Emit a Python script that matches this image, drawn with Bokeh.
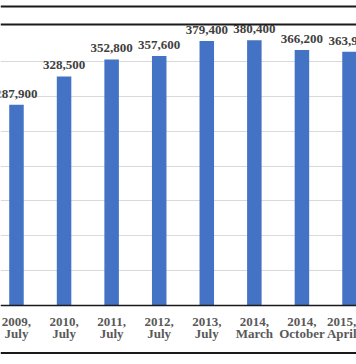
from bokeh.plotting import figure
from bokeh.models import ColumnDataSource, Range1d, FixedTicker, Span
from bokeh.core.properties import value
from bokeh.embed import file_html
from bokeh.resources import INLINE

categories = ["2009,\nJuly", "2010,\nJuly", "2011,\nJuly", "2012,\nJuly",
              "2013,\nJuly", "2014,\nMarch", "2014,\nOctober", "2015,\nApril"]
values = [287900, 328500, 352800, 357600, 379400, 380400, 366200, 363900]
value_labels = ["287,900", "328,500", "352,800", "357,600",
                "379,400", "380,400", "366,200", "363,900"]
grid_values = [50000, 100000, 150000, 200000, 250000, 300000, 350000]

# layout: canvas 364 px tall, value 0 at pixel row 305, 50,000 per 34.87 px
H = 364
ZERO_PX = 305
PER_PX = 50000 / 34.87


def px_to_val(py):
    return (ZERO_PX - py) * PER_PX


idx = list(range(len(categories)))
src = ColumnDataSource(dict(x=idx, top=values, lab=value_labels))

p = figure(width=356, height=H, output_backend="svg", toolbar_location=None,
           x_range=Range1d(-0.336, 7.147), y_range=Range1d(px_to_val(H), px_to_val(0)),
           min_border_left=0, min_border_right=0, min_border_top=0, min_border_bottom=0)
p.outline_line_color = None
p.background_fill_color = "white"
p.border_fill_color = "white"

p.vbar(x="x", top="top", bottom=0, width=0.305, source=src, fill_color="#4472C4", line_color=None)
p.text(x="x", y="top", text="lab", source=src, text_align="center", text_baseline="alphabetic",
       y_offset=-11, text_font=value("Liberation Serif"), text_font_style="bold",
       text_font_size="13px", text_color="#404040")

p.xgrid.grid_line_color = None
p.ygrid.ticker = FixedTicker(ticks=grid_values)
p.ygrid.grid_line_color = "#D9D9D9"
p.ygrid.grid_line_width = 1
p.yaxis.visible = False

xa = p.xaxis[0]
xa.fixed_location = 0
xa.ticker = FixedTicker(ticks=idx)
xa.major_label_overrides = {i: c for i, c in zip(idx, categories)}
xa.axis_line_color = "#1a1a1a"
xa.axis_line_width = 1.7
xa.major_tick_line_color = None
xa.minor_tick_line_color = None
xa.major_tick_out = 0
xa.minor_tick_out = 0
xa.major_label_standoff = 8
xa.major_label_text_font = "Liberation Serif"
xa.major_label_text_font_style = "bold"
xa.major_label_text_font_size = "13px"
xa.major_label_text_color = "#595959"
xa.major_label_text_line_height = 0.85

# frame rules of the original table cell (top double rule and bottom rule)
for py in (6, 24, 352.5):
    p.add_layout(Span(location=px_to_val(py), dimension="width",
                      line_color="#1a1a1a", line_width=2))

open("out.html", "w").write(file_html(p, INLINE))
